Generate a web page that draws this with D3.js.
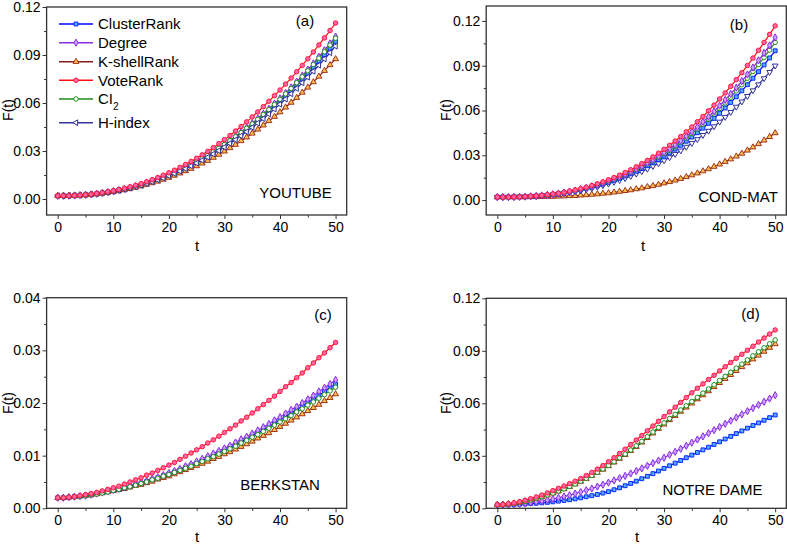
<!DOCTYPE html>
<html><head><meta charset="utf-8">
<script src="https://cdn.jsdelivr.net/npm/d3@7"></script>
<style>
body{margin:0;background:#fff}
svg{display:block}
text{font-family:"Liberation Sans",Arial,Helvetica,sans-serif;fill:#000}
</style>
</head><body>
<svg id="c" width="787" height="545"></svg>
<script>
// ---------------- data ----------------
const tValues = [0,1,2,3,4,5,6,7,8,9,10,11,12,13,14,15,16,17,18,19,20,21,22,23,24,25,26,27,28,29,30,31,32,33,34,35,36,37,38,39,40,41,42,43,44,45,46,47,48,49,50];

// (a) YOUTUBE
const aClusterRank = [.0020,.0020,.0021,.0022,.0024,.0026,.0029,.0033,.0037,.0042,.0048,.0055,.0062,.0070,.0079,.0088,.0099,.0110,.0122,.0135,.0149,.0163,.0179,.0195,.0212,.0230,.0249,.0269,.0289,.0311,.0334,.0357,.0382,.0407,.0433,.0460,.0488,.0518,.0548,.0579,.0610,.0644,.0678,.0712,.0749,.0785,.0823,.0862,.0902,.0943,.0985];
const aDegree = [.0020,.0020,.0021,.0022,.0024,.0026,.0029,.0033,.0038,.0043,.0049,.0056,.0063,.0071,.0080,.0090,.0101,.0113,.0125,.0138,.0153,.0168,.0184,.0200,.0218,.0237,.0256,.0277,.0298,.0320,.0343,.0368,.0393,.0419,.0446,.0474,.0503,.0533,.0564,.0596,.0629,.0663,.0698,.0734,.0771,.0809,.0848,.0889,.0930,.0972,.1015];
const aKshellRank = [.0020,.0020,.0021,.0022,.0023,.0025,.0028,.0031,.0035,.0040,.0045,.0051,.0057,.0064,.0072,.0080,.0090,.0100,.0110,.0122,.0134,.0147,.0161,.0175,.0190,.0206,.0223,.0240,.0259,.0278,.0298,.0319,.0340,.0363,.0386,.0410,.0435,.0461,.0488,.0515,.0543,.0573,.0603,.0633,.0666,.0698,.0731,.0766,.0802,.0838,.0875];
const aVoteRank = [.0020,.0020,.0021,.0022,.0024,.0027,.0030,.0034,.0039,.0045,.0051,.0059,.0067,.0076,.0086,.0096,.0108,.0121,.0134,.0149,.0164,.0180,.0198,.0216,.0235,.0255,.0276,.0298,.0321,.0346,.0371,.0397,.0425,.0453,.0482,.0513,.0544,.0577,.0611,.0646,.0681,.0718,.0756,.0795,.0835,.0876,.0919,.0963,.1007,.1053,.1100];
const aCI2 = [.0020,.0020,.0021,.0022,.0024,.0026,.0029,.0033,.0038,.0043,.0049,.0056,.0063,.0071,.0080,.0090,.0100,.0112,.0124,.0137,.0151,.0166,.0182,.0198,.0216,.0235,.0254,.0274,.0295,.0317,.0340,.0364,.0389,.0415,.0442,.0469,.0498,.0528,.0559,.0590,.0623,.0657,.0691,.0727,.0764,.0801,.0840,.0880,.0920,.0962,.1005];
const aHindex = [.0020,.0020,.0021,.0022,.0024,.0026,.0029,.0032,.0037,.0042,.0047,.0053,.0060,.0068,.0077,.0086,.0096,.0107,.0119,.0131,.0145,.0159,.0174,.0189,.0206,.0224,.0242,.0261,.0281,.0302,.0324,.0347,.0370,.0395,.0420,.0447,.0474,.0502,.0531,.0562,.0592,.0624,.0657,.0691,.0726,.0761,.0798,.0836,.0875,.0914,.0955];

// (b) COND-MAT
const bClusterRank = [.0020,.0020,.0020,.0021,.0022,.0023,.0025,.0027,.0030,.0033,.0038,.0042,.0048,.0054,.0061,.0068,.0077,.0086,.0096,.0107,.0119,.0132,.0146,.0161,.0176,.0193,.0211,.0230,.0250,.0271,.0293,.0317,.0341,.0367,.0394,.0422,.0451,.0482,.0514,.0547,.0581,.0617,.0654,.0692,.0732,.0773,.0816,.0860,.0905,.0952,.1000];
const bDegree = [.0020,.0020,.0020,.0021,.0022,.0023,.0025,.0028,.0031,.0035,.0039,.0044,.0050,.0057,.0064,.0073,.0082,.0092,.0103,.0115,.0128,.0142,.0157,.0173,.0191,.0209,.0228,.0249,.0271,.0294,.0318,.0344,.0370,.0398,.0428,.0458,.0490,.0524,.0558,.0594,.0632,.0671,.0711,.0753,.0797,.0841,.0888,.0936,.0985,.1036,.1089];
const bKshellRank = [.0020,.0020,.0020,.0020,.0020,.0020,.0021,.0021,.0022,.0023,.0023,.0025,.0026,.0028,.0029,.0032,.0034,.0037,.0040,.0044,.0047,.0052,.0057,.0062,.0067,.0074,.0080,.0088,.0095,.0104,.0113,.0122,.0132,.0143,.0155,.0167,.0180,.0194,.0208,.0224,.0240,.0257,.0274,.0293,.0312,.0333,.0354,.0376,.0400,.0424,.0449];
const bVoteRank = [.0020,.0020,.0020,.0021,.0022,.0024,.0026,.0028,.0032,.0036,.0041,.0046,.0052,.0060,.0068,.0077,.0086,.0097,.0109,.0122,.0136,.0151,.0167,.0185,.0203,.0223,.0244,.0266,.0289,.0314,.0340,.0367,.0396,.0426,.0457,.0490,.0525,.0560,.0598,.0636,.0677,.0718,.0762,.0807,.0853,.0901,.0951,.1003,.1056,.1110,.1167];
const bCI2 = [.0020,.0020,.0020,.0021,.0022,.0023,.0025,.0028,.0031,.0034,.0039,.0044,.0049,.0056,.0063,.0071,.0080,.0090,.0101,.0112,.0125,.0138,.0153,.0169,.0185,.0203,.0222,.0242,.0263,.0285,.0309,.0334,.0359,.0387,.0415,.0445,.0476,.0508,.0542,.0577,.0613,.0651,.0690,.0731,.0773,.0816,.0861,.0908,.0955,.1005,.1056];
const bHindex = [.0020,.0020,.0020,.0021,.0022,.0023,.0024,.0026,.0029,.0032,.0036,.0040,.0045,.0050,.0057,.0063,.0071,.0079,.0088,.0098,.0109,.0121,.0133,.0146,.0160,.0176,.0192,.0209,.0227,.0245,.0265,.0286,.0308,.0331,.0356,.0381,.0407,.0435,.0463,.0493,.0524,.0556,.0589,.0624,.0659,.0696,.0734,.0774,.0815,.0857,.0900];

// (c) BERKSTAN
const cClusterRank = [.0020,.0020,.0021,.0022,.0023,.0024,.0026,.0028,.0030,.0032,.0034,.0036,.0039,.0042,.0045,.0048,.0051,.0055,.0058,.0062,.0065,.0069,.0073,.0078,.0082,.0086,.0091,.0096,.0101,.0106,.0111,.0116,.0121,.0127,.0132,.0138,.0144,.0149,.0155,.0162,.0168,.0174,.0181,.0187,.0194,.0201,.0207,.0214,.0222,.0229,.0236];
const cIndegreeRank = [.0020,.0020,.0021,.0022,.0023,.0024,.0026,.0028,.0030,.0032,.0035,.0037,.0040,.0043,.0046,.0049,.0052,.0056,.0059,.0063,.0067,.0071,.0075,.0080,.0084,.0089,.0094,.0099,.0104,.0109,.0114,.0119,.0125,.0131,.0136,.0142,.0148,.0154,.0160,.0167,.0173,.0180,.0187,.0193,.0200,.0207,.0214,.0222,.0229,.0236,.0244];
const cLeaderRank = [.0020,.0020,.0021,.0022,.0023,.0024,.0025,.0027,.0029,.0031,.0033,.0035,.0037,.0040,.0043,.0045,.0048,.0051,.0055,.0058,.0061,.0065,.0069,.0073,.0077,.0081,.0085,.0089,.0094,.0098,.0103,.0107,.0112,.0117,.0122,.0127,.0133,.0138,.0143,.0149,.0155,.0161,.0167,.0173,.0179,.0185,.0191,.0197,.0204,.0210,.0217];
const cVoteRank = [.0020,.0020,.0021,.0022,.0024,.0026,.0028,.0030,.0033,.0036,.0039,.0042,.0046,.0050,.0054,.0058,.0063,.0067,.0072,.0077,.0082,.0087,.0093,.0099,.0105,.0111,.0117,.0124,.0130,.0137,.0144,.0151,.0158,.0166,.0173,.0181,.0189,.0197,.0205,.0213,.0222,.0231,.0239,.0248,.0257,.0267,.0276,.0286,.0295,.0305,.0315];
const cPageRank = [.0020,.0020,.0021,.0022,.0023,.0024,.0026,.0027,.0029,.0031,.0034,.0036,.0039,.0041,.0044,.0047,.0050,.0054,.0057,.0061,.0064,.0068,.0072,.0076,.0080,.0085,.0089,.0094,.0098,.0103,.0108,.0113,.0118,.0124,.0129,.0135,.0140,.0146,.0152,.0158,.0164,.0170,.0176,.0183,.0189,.0196,.0202,.0209,.0216,.0223,.0230];

// (d) NOTRE DAME
const dClusterRank = [.0020,.0020,.0021,.0022,.0023,.0025,.0027,.0029,.0031,.0034,.0037,.0041,.0045,.0049,.0054,.0060,.0066,.0072,.0079,.0087,.0095,.0106,.0117,.0129,.0142,.0155,.0169,.0183,.0198,.0213,.0228,.0243,.0258,.0273,.0289,.0304,.0319,.0334,.0349,.0365,.0380,.0396,.0411,.0427,.0442,.0458,.0473,.0488,.0503,.0518,.0533];
const dIndegreeRank = [.0020,.0021,.0022,.0024,.0026,.0029,.0033,.0037,.0042,.0047,.0053,.0060,.0067,.0075,.0084,.0093,.0103,.0113,.0124,.0135,.0147,.0159,.0172,.0185,.0199,.0213,.0228,.0243,.0258,.0273,.0289,.0306,.0323,.0340,.0357,.0375,.0393,.0411,.0429,.0447,.0465,.0483,.0501,.0519,.0537,.0555,.0573,.0591,.0609,.0627,.0646];
const dLeaderRank = [.0020,.0022,.0025,.0029,.0034,.0040,.0047,.0056,.0065,.0075,.0086,.0097,.0110,.0123,.0138,.0153,.0169,.0186,.0204,.0222,.0242,.0263,.0284,.0306,.0329,.0352,.0377,.0403,.0429,.0455,.0480,.0505,.0529,.0553,.0577,.0600,.0624,.0647,.0670,.0694,.0717,.0740,.0763,.0786,.0808,.0830,.0852,.0874,.0896,.0918,.0939];
const dVoteRank = [.0020,.0022,.0026,.0031,.0038,.0046,.0055,.0065,.0076,.0088,.0101,.0114,.0127,.0141,.0155,.0170,.0187,.0205,.0224,.0244,.0266,.0289,.0313,.0338,.0364,.0390,.0416,.0443,.0470,.0497,.0524,.0551,.0578,.0605,.0633,.0660,.0686,.0711,.0736,.0760,.0785,.0809,.0833,.0857,.0880,.0903,.0926,.0950,.0973,.0996,.1019];
const dPageRank = [.0020,.0022,.0025,.0029,.0034,.0040,.0048,.0057,.0066,.0076,.0087,.0099,.0111,.0125,.0139,.0155,.0171,.0188,.0206,.0225,.0245,.0266,.0288,.0310,.0333,.0357,.0383,.0409,.0436,.0462,.0488,.0513,.0537,.0562,.0586,.0610,.0634,.0658,.0682,.0706,.0730,.0754,.0777,.0801,.0824,.0848,.0871,.0894,.0917,.0940,.0962];

const xTicks = [0,10,20,30,40,50];
const xMinorTicks = [5,15,25,35,45];
const yTicksBig = [0,0.03,0.06,0.09,0.12];
const yMinorBig = [0.015,0.045,0.075,0.105];
const yTicksSmall = [0,0.01,0.02,0.03,0.04];
const yMinorSmall = [0.005,0.015,0.025,0.035];
const namesUndirected = ["ClusterRank","Degree","K-shellRank","VoteRank","CI","H-index"];
const namesDirected = ["ClusterRank","IndegreeRank","LearderRank","VoteRank","PageRank"];
const panelLetters = ["(a)","(b)","(c)","(d)"];
const networkNames = ["YOUTUBE","COND-MAT","BERKSTAN","NOTRE DAME"];

// ---------------- styles ----------------
const ST = {
  cluster:{line:"#0000ff", stroke:"#0a2cff", fill:"#55aaff", sym:d3.symbolSquare, size:15, rot:0},
  degree: {line:"#8a2be2", stroke:"#8a2be2", fill:"#c8a2ff", sym:d3.symbolDiamond, size:15, rot:0},
  kshell: {line:"#8b1a1a", stroke:"#a0341c", fill:"#ffc04a", sym:d3.symbolTriangle, size:15, rot:0},
  vote:   {line:"#ff1010", stroke:"#ff1a3c", fill:"#ff66aa", sym:d3.symbolCircle, size:16, rot:0},
  ci:     {line:"#1e8c1e", stroke:"#1e8c1e", fill:"#ffffff", sym:d3.symbolCircle, size:16, rot:0},
  hidxA:  {line:"#333399", stroke:"#333399", fill:"#ffffff", sym:d3.symbolTriangle, size:14, rot:-90},
  hidxB:  {line:"#333399", stroke:"#333399", fill:"#ffffff", sym:d3.symbolTriangle, size:14, rot:180}
};

const svg = d3.select("#c");

const panels = [
  {left:46.6, right:346.7, top:7, bottom:215, yDomain:[-0.01,0.12], yTicks:yTicksBig, yMinor:yMinorBig,
   series:[[aClusterRank,ST.cluster],[aDegree,ST.degree],[aKshellRank,ST.kshell],[aCI2,ST.ci],[aHindex,ST.hidxA],[aVoteRank,ST.vote]],
   letter:[305,21], net:[295.5,193], ylab:[8,110], xlab:[197,246],
   legend:{names:namesUndirected, styles:[ST.cluster,ST.degree,ST.kshell,ST.vote,ST.ci,ST.hidxA], ys:[24,42.7,61.7,80.3,99,122.7], x0:59, x1:93, tx:98}},
  {left:486.2, right:786.3, top:6, bottom:215, yDomain:[-0.01,0.13], yTicks:yTicksBig, yMinor:yMinorBig,
   series:[[bKshellRank,ST.kshell],[bHindex,ST.hidxB],[bClusterRank,ST.cluster],[bCI2,ST.ci],[bDegree,ST.degree],[bVoteRank,ST.vote]],
   letter:[739,25], net:[738,196.7], ylab:[446,110], xlab:[643,246]},
  {left:46.6, right:346.7, top:297.7, bottom:508.3, yDomain:[0,0.04], yTicks:yTicksSmall, yMinor:yMinorSmall,
   series:[[cLeaderRank,ST.kshell],[cClusterRank,ST.cluster],[cIndegreeRank,ST.degree],[cPageRank,ST.ci],[cVoteRank,ST.vote]],
   letter:[323,315], net:[280,485], ylab:[8,403], xlab:[197,537]},
  {left:486.2, right:786.3, top:298.3, bottom:508.3, yDomain:[0,0.12], yTicks:yTicksBig, yMinor:yMinorBig,
   series:[[dClusterRank,ST.cluster],[dIndegreeRank,ST.degree],[dLeaderRank,ST.kshell],[dPageRank,ST.ci],[dVoteRank,ST.vote]],
   letter:[750.5,313.3], net:[712.5,490], ylab:[446,403], xlab:[637,537]}
];

function marker(sel, st, cx, cy) {
  sel.append("path")
    .attr("d", d3.symbol(st.sym, st.size)())
    .attr("transform", `translate(${cx},${cy}) rotate(${st.rot})`)
    .attr("fill", st.fill).attr("stroke", st.stroke).attr("stroke-width", 1);
}

panels.forEach((p, pi) => {
  const g = svg.append("g");
  const x = d3.scaleLinear().domain([-2,52]).range([p.left, p.right]);
  const y = d3.scaleLinear().domain(p.yDomain).range([p.bottom, p.top]);

  const styleAxis = a => {
    a.select(".domain").remove();
    a.selectAll(".tick line").attr("stroke","#333").attr("stroke-width",1);
    a.selectAll(".tick text").attr("font-size",14).attr("fill","#000")
      .style("font-family",'"Liberation Sans",Arial,sans-serif');
  };
  g.append("g").attr("transform",`translate(0,${p.bottom})`)
    .call(d3.axisBottom(x).tickValues(xTicks).tickSize(4).tickPadding(3).tickFormat(d3.format("d"))).call(styleAxis);
  g.append("g").attr("transform",`translate(0,${p.bottom})`)
    .call(d3.axisBottom(x).tickValues(xMinorTicks).tickSize(2.5).tickFormat("")).call(styleAxis);
  g.append("g").attr("transform",`translate(${p.left},0)`)
    .call(d3.axisLeft(y).tickValues(p.yTicks).tickSize(4).tickPadding(2).tickFormat(d3.format(".2f"))).call(styleAxis);
  g.append("g").attr("transform",`translate(${p.left},0)`)
    .call(d3.axisLeft(y).tickValues(p.yMinor).tickSize(2.5).tickFormat("")).call(styleAxis);

  const line = d3.line().x((d,i)=>x(tValues[i])).y(d=>y(d));
  p.series.forEach(([data, st]) => {
    g.append("path").datum(data).attr("d", line)
      .attr("fill","none").attr("stroke", st.line).attr("stroke-width", 1.2);
    const mg = g.append("g");
    data.forEach((v,i) => marker(mg, st, x(tValues[i]), y(v)));
  });

  g.append("rect").attr("x",p.left).attr("y",p.top)
    .attr("width",p.right-p.left).attr("height",p.bottom-p.top)
    .attr("fill","none").attr("stroke","#333").attr("stroke-width",1.3);

  g.append("text").attr("x",p.letter[0]).attr("y",p.letter[1]).attr("dy","0.35em")
    .attr("text-anchor","middle").attr("font-size",15).text(panelLetters[pi]);
  g.append("text").attr("x",p.net[0]).attr("y",p.net[1]).attr("dy","0.35em")
    .attr("text-anchor","middle").attr("font-size",15).text(networkNames[pi]);
  g.append("text").attr("transform",`translate(${p.ylab[0]},${p.ylab[1]}) rotate(-90)`)
    .attr("dy","0.35em").attr("text-anchor","middle").attr("font-size",14).text("F(t)");
  g.append("text").attr("x",p.xlab[0]).attr("y",p.xlab[1]).attr("dy","0.35em")
    .attr("text-anchor","middle").attr("font-size",15).text("t");

  if (p.legend) {
    const L = p.legend;
    L.names.forEach((nm, k) => {
      const st = L.styles[k], ly = L.ys[k];
      g.append("line").attr("x1",L.x0).attr("x2",L.x1).attr("y1",ly).attr("y2",ly)
        .attr("stroke",st.line).attr("stroke-width",1.4);
      marker(g, st, (L.x0+L.x1)/2, ly);
      const tx = g.append("text").attr("x",L.tx).attr("y",ly).attr("dy","0.35em").attr("font-size",15);
      if (nm === "CI") {
        tx.append("tspan").text("CI");
        tx.append("tspan").attr("font-size",10).attr("dy","0.55em").text("2");
      } else tx.text(nm);
    });
  }
});
</script>
</body></html>
